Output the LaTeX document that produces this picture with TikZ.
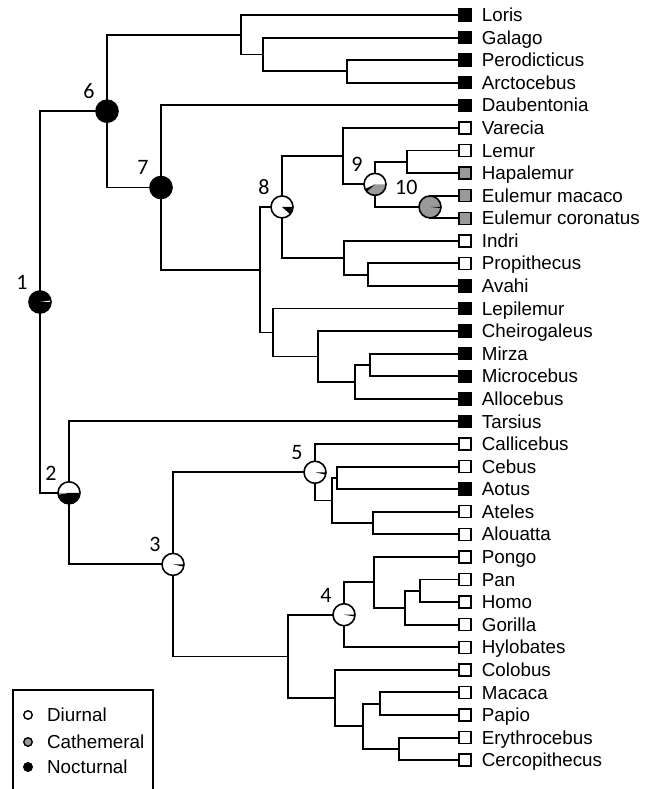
\documentclass[tikz,border=0pt]{standalone}
\usepackage{fontspec}
\setmainfont{Liberation Sans}
\newfontfamily\numfont{Carlito}
\usetikzlibrary{positioning}
\definecolor{cath}{gray}{0.6}
\newcommand{\ty}[1]{15+22.58*(#1)}
\newcommand{\pierad}{11pt}
\newcommand{\slice}[4]{\fill[#4] (#1) -- ++(#2:\pierad) arc[start angle=#2, end angle=#3, radius=\pierad] -- cycle;}
\tikzset{
  branch/.style={line width=1.9pt},
  tipD/.style={draw, rectangle, line width=1.4pt, minimum size=12pt, inner sep=0pt, fill=white},
  tipC/.style={tipD, fill=cath},
  tipN/.style={tipD, fill=black},
  taxon/.style={anchor=base west, inner sep=0pt, font=\fontsize{18.8}{20}\selectfont},
  pie/.style={circle, draw, line width=1.6pt, minimum size=22pt, inner sep=0pt},
  num/.style={inner sep=0pt, font=\numfont\fontsize{22}{24}\selectfont},
  legdot/.style={circle, draw, line width=1.4pt, minimum size=8.5pt, inner sep=0pt},
  legtxt/.style={anchor=west, inner sep=0pt, font=\fontsize{18.8}{20}\selectfont},
}
\begin{document}
\begin{tikzpicture}[x=1pt, y=-1pt]
\useasboundingbox (0,0) rectangle (652,789);
% tips
\foreach \nm/\lab/\st [count=\i from 0] in {loris/Loris/N, galago/Galago/N, perod/Perodicticus/N, arcto/Arctocebus/N,
    daub/Daubentonia/N, varecia/Varecia/D, lemur/Lemur/D, hapal/Hapalemur/C, emac/Eulemur macaco/C,
    ecor/Eulemur coronatus/C, indri/Indri/D, proph/Propithecus/D, avahi/Avahi/N, lepil/Lepilemur/N,
    cheir/Cheirogaleus/N, mirza/Mirza/N, micro/Microcebus/N, allo/Allocebus/N, tarsius/Tarsius/N,
    calli/Callicebus/D, cebus/Cebus/D, aotus/Aotus/N, ateles/Ateles/D, alou/Alouatta/D, pongo/Pongo/D,
    pan/Pan/D, homo/Homo/D, gorilla/Gorilla/D, hylo/Hylobates/D, colobus/Colobus/D, macaca/Macaca/D,
    papio/Papio/D, erythro/Erythrocebus/D, cercop/Cercopithecus/D} {
  \node[tip\st] (\nm) at (465,{\ty{\i}}) {};
  \node[taxon] (\nm-t) at ([xshift=10pt, yshift=-6.6pt]\nm.east) {\lab};
}
% inner nodes
\coordinate (lor3) at (347,{\ty{2.5}});
\coordinate (lor2) at (263,{\ty{1.75}});
\coordinate (lor1) at (241,{\ty{0.875}});
\coordinate (lemhap) at (407,{\ty{6.5}});
\coordinate (n10) at (430,{\ty{8.5}});
\coordinate (n9) at (375,{\ty{7.5}});
\coordinate (varA) at (343,{\ty{6.25}});
\coordinate (propA) at (368,{\ty{11.5}});
\coordinate (indA) at (344,{\ty{10.75}});
\coordinate (n8) at (282,{\ty{8.5}});
\coordinate (mirA) at (370,{\ty{15.5}});
\coordinate (micA) at (355,{\ty{16.25}});
\coordinate (chA) at (318,{\ty{15.125}});
\coordinate (lepA) at (273,{\ty{14.0625}});
\coordinate (lemA) at (260,{\ty{11.28}});
\coordinate (n7) at (161,{\ty{7.64}});
\coordinate (n6) at (107,{\ty{4.26}});
\coordinate (cebA) at (337,{\ty{20.5}});
\coordinate (atA) at (373,{\ty{22.5}});
\coordinate (nwA) at (332,{\ty{21.5}});
\coordinate (n5) at (315,{\ty{20.25}});
\coordinate (panA) at (420,{\ty{25.5}});
\coordinate (homA) at (405,{\ty{26.25}});
\coordinate (apeA) at (374,{\ty{25.125}});
\coordinate (n4) at (344,{\ty{26.56}});
\coordinate (macA) at (380,{\ty{30.5}});
\coordinate (eryA) at (399,{\ty{32.5}});
\coordinate (papA) at (363,{\ty{31.5}});
\coordinate (owmA) at (335,{\ty{30.25}});
\coordinate (catA) at (288,{\ty{28.41}});
\coordinate (n3) at (173,{\ty{24.33}});
\coordinate (n2) at (69,{\ty{21.16}});
\coordinate (n1) at (40,{\ty{12.71}});
% branches
\foreach \a/\b in {lor3/perod, lor3/arcto, lor2/galago, lor2/lor3, lor1/loris, lor1/lor2, n6/lor1, n6/n7,
    n7/daub, n7/lemA, lemA/n8, lemA/lepA, n8/varA, n8/indA, varA/varecia, varA/n9, n9/lemhap, n9/n10,
    lemhap/lemur, lemhap/hapal, n10/emac, n10/ecor, indA/indri, indA/propA, propA/proph, propA/avahi,
    lepA/lepil, lepA/chA, chA/cheir, chA/micA, micA/mirA, micA/allo, mirA/mirza, mirA/micro,
    n1/n6, n1/n2, n2/tarsius, n2/n3, n3/n5, n3/catA, n5/calli, n5/nwA, nwA/cebA, nwA/atA,
    cebA/cebus, cebA/aotus, atA/ateles, atA/alou, catA/n4, catA/owmA, n4/apeA, n4/hylo,
    apeA/pongo, apeA/homA, homA/panA, homA/gorilla, panA/pan, panA/homo, owmA/colobus, owmA/papA,
    papA/macA, papA/eryA, macA/macaca, macA/papio, eryA/erythro, eryA/cercop}
  \draw[branch] (\a) |- (\b);
% pies
\fill[black] (n1) circle[radius=\pierad]; \slice{n1}{0}{8}{white}
\fill[white] (n2) circle[radius=\pierad]; \slice{n2}{190}{360}{black} \slice{n2}{180}{190}{cath}
\fill[white] (n3) circle[radius=\pierad]; \slice{n3}{-12}{0}{black}
\fill[white] (n4) circle[radius=\pierad]; \slice{n4}{-9}{0}{black}
\fill[white] (n5) circle[radius=\pierad]; \slice{n5}{-13}{0}{black}
\fill[black] (n6) circle[radius=\pierad];
\fill[black] (n7) circle[radius=\pierad];
\fill[white] (n8) circle[radius=\pierad]; \slice{n8}{-42}{0}{black}
\fill[white] (n9) circle[radius=\pierad]; \slice{n9}{222}{360}{cath} \slice{n9}{205}{222}{black}
\fill[cath] (n10) circle[radius=\pierad]; \slice{n10}{-6}{1}{black}
\foreach \k in {1,...,10} {
  \node[pie] (p\k) at (n\k) {};
  \node[num, above left=4pt and 4pt of p\k] (l\k) {\k};
}
% legend
\draw[line width=1.5pt] (13,690) rectangle (153,800);
\node[legdot, fill=white] (dotD) at (28,715) {};
\node[legtxt, right=14pt of dotD] (txtD) {Diurnal};
\node[legdot, fill=cath] (dotC) at (28,742) {};
\node[legtxt, right=14pt of dotC] (txtC) {Cathemeral};
\node[legdot, fill=black] (dotN) at (28,767) {};
\node[legtxt, right=14pt of dotN] (txtN) {Nocturnal};
\end{tikzpicture}
\end{document}
